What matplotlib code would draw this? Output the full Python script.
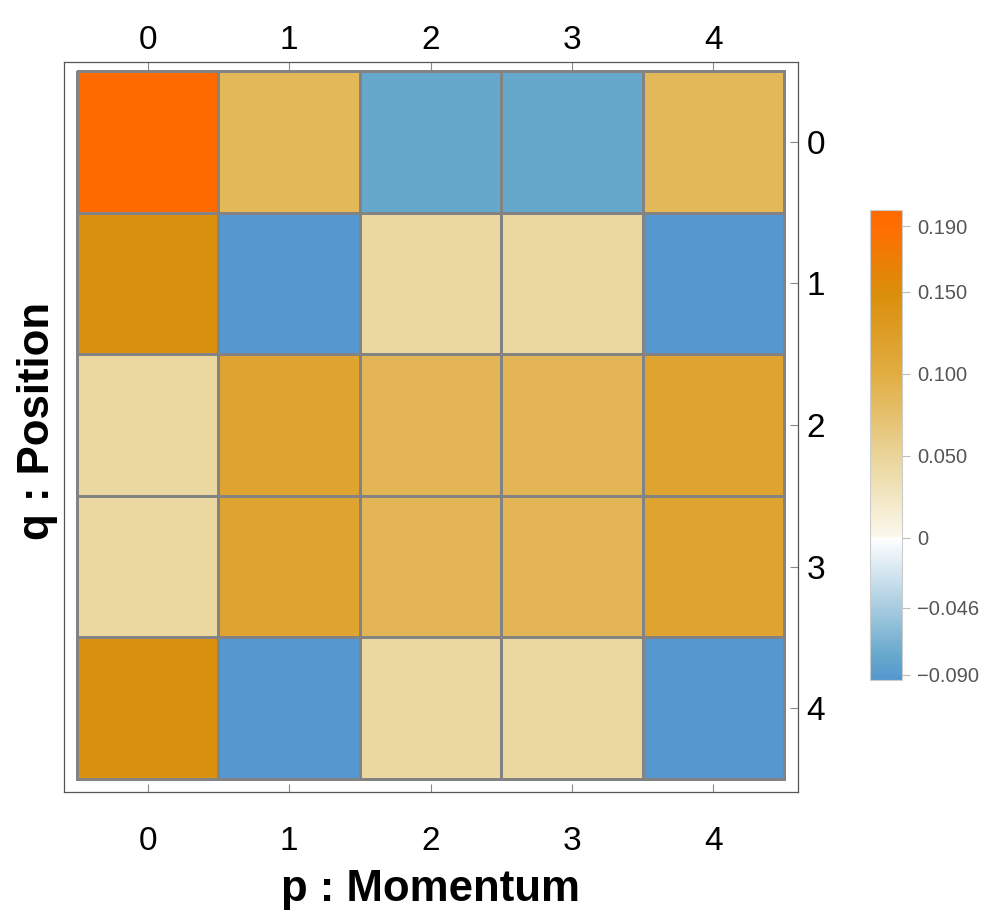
import numpy as np
import matplotlib
matplotlib.use("Agg")
import matplotlib.pyplot as plt
from matplotlib.colors import LinearSegmentedColormap, FuncNorm

# discrete Wigner function values, rows = q (position), cols = p (momentum)
W = np.array([
    [0.200, 0.086, -0.078, -0.078, 0.086],
    [0.145, -0.093, 0.045, 0.045, -0.093],
    [0.045, 0.116, 0.090, 0.090, 0.116],
    [0.045, 0.116, 0.090, 0.090, 0.116],
    [0.145, -0.093, 0.045, 0.045, -0.093],
])
p_labels = ["0", "1", "2", "3", "4"]
q_labels = ["0", "1", "2", "3", "4"]
cbar_ticks = [-0.090, -0.046, 0.0, 0.050, 0.100, 0.150, 0.190]
cbar_ticklabels = ["\u22120.090", "\u22120.046", "0", "0.050", "0.100", "0.150", "0.190"]

vmin, vmax = -0.0936, 0.200

# colorbar is stretched differently on each side of zero
def fwd(x):
    x = np.asarray(x, dtype=float)
    return np.where(x >= 0, x / 0.05 * 82.0, x / 0.046 * 70.0)

def inv(y):
    y = np.asarray(y, dtype=float)
    return np.where(y >= 0, y * 0.05 / 82.0, y * 0.046 / 70.0)

norm = FuncNorm((fwd, inv), vmin=vmin, vmax=vmax)

nodes = [
    (vmin, "#5598cf"),
    (-0.078, "#67a9cc"),
    (-0.046, "#a8cce0"),
    (-0.0005, "#ffffff"),
    (0.0005, "#fbf8ec"),
    (0.050, "#e9d498"),
    (0.100, "#e1ad42"),
    (0.150, "#da8e0a"),
    (0.190, "#ff6e00"),
    (vmax, "#ff6a00"),
]
cmap = LinearSegmentedColormap.from_list(
    "wig", [(float(norm(v)), c) for v, c in nodes])

plt.rcParams["font.family"] = ["Liberation Sans", "DejaVu Sans"]

fig = plt.figure(figsize=(9.96, 9.17), dpi=100)
ax = fig.add_axes([64 / 996, 1 - 792 / 917, 734 / 996, 730 / 917])

x = np.arange(len(p_labels) + 1) - 0.5
y = np.arange(len(q_labels) + 1) - 0.5
mesh = ax.pcolormesh(x, y, W, cmap=cmap, norm=norm,
                     edgecolors="#838383", linewidth=2.1)
ax.set_xlim(-0.592, 4.599)
ax.set_ylim(4.592, -0.564)

for s in ax.spines.values():
    s.set_color("#555555")
    s.set_linewidth(0.9)

ax.set_xticks(range(len(p_labels)))
ax.set_yticks(range(len(q_labels)))
ax.set_xticklabels(p_labels)
ax.set_yticklabels(q_labels)
ax.tick_params(axis="x", which="both", direction="in", length=6, width=0.8,
               color="#888888", top=True, bottom=True, labeltop=True,
               labelbottom=False, labelsize=24, pad=4)
ax.tick_params(axis="y", which="both", direction="in", length=6, width=0.8,
               color="#888888", left=False, right=True, labelleft=False,
               labelright=True, labelsize=24, pad=6)

# bottom tick labels sit further away from the frame
for i, lab in enumerate(p_labels):
    ax.annotate(lab, xy=(i, 0), xycoords=("data", "axes fraction"),
                xytext=(0, -50), textcoords="offset pixels",
                ha="center", va="center", fontsize=24)

fig.text(430 / 996, 1 - 889 / 917, "p : Momentum", ha="center", va="center",
         fontsize=31.5, fontweight="bold")
fig.text(38 / 996, 1 - 421 / 917, "q : Position", ha="center", va="center",
         fontsize=31.5, fontweight="bold", rotation=90)

cax = fig.add_axes([870 / 996, 1 - 680 / 917, 32 / 996, 470 / 917])
cb = fig.colorbar(mesh, cax=cax)
cb.outline.set_edgecolor("#cccccc")
cb.outline.set_linewidth(0.8)
cb.set_ticks(cbar_ticks)
cb.set_ticklabels(cbar_ticklabels)
cb.ax.minorticks_off()
cax.tick_params(axis="y", direction="out", length=6, width=0.8,
                color="#bbbbbb", labelcolor="#555555", labelsize=14.5, pad=5)

fig.savefig("out.png", dpi=100)
